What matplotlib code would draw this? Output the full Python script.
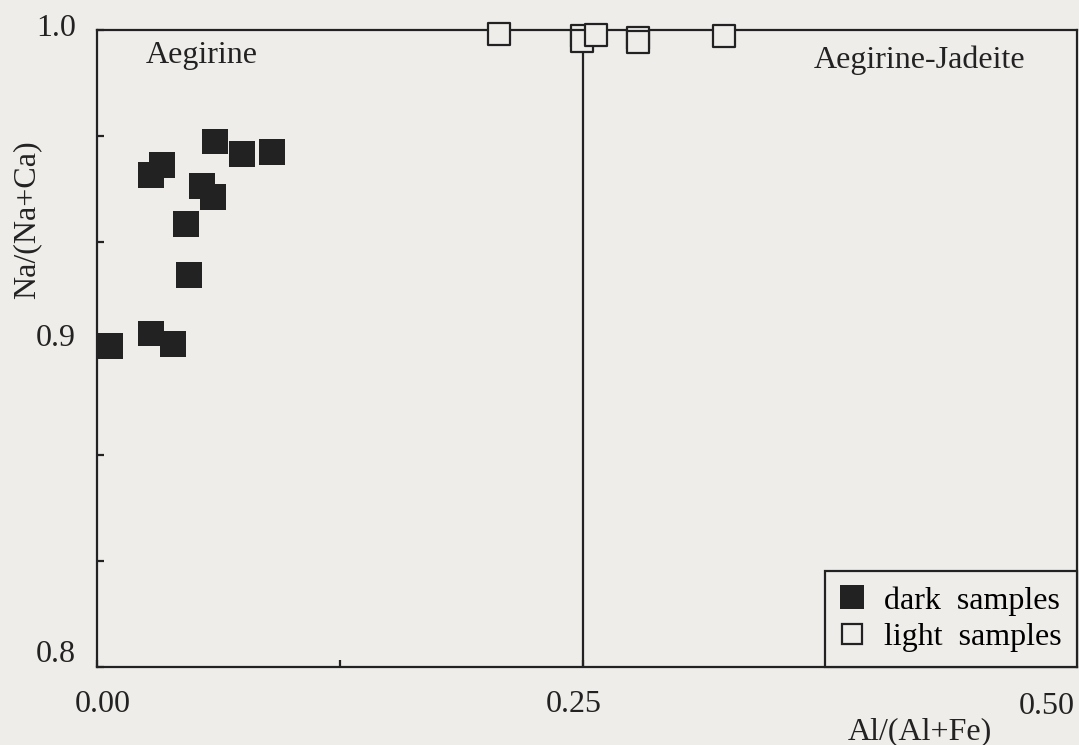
import numpy as np
import matplotlib.pyplot as plt
from matplotlib.lines import Line2D

# Data
dark_x = [0.0067, 0.0278, 0.0391, 0.0278, 0.0334, 0.0607, 0.0746, 0.0900,
          0.0540, 0.0597, 0.0458, 0.0473]
dark_y = [0.9008, 0.9046, 0.9014, 0.9545, 0.9576, 0.9651, 0.9611, 0.9617,
          0.9510, 0.9476, 0.9391, 0.9231]

light_x = [0.2068, 0.2495, 0.2495, 0.2567, 0.2783, 0.2783, 0.3225]
light_y = [0.9987, 0.9980, 0.9966, 0.9984, 0.9975, 0.9963, 0.9980]

y_major = [0.8, 0.9, 1.0]
x_major = [0.0, 0.25, 0.5]

W, H = 1079, 745
bg = '#efedea'
ink = '#222222'
fs = 23

plt.rcParams['font.family'] = ['Liberation Serif', 'DejaVu Serif']

fig = plt.figure(figsize=(W / 100, H / 100), dpi=100, facecolor=bg)
ax = fig.add_axes([97 / W, 78 / H, 980 / W, 637 / H], facecolor=bg)


def px_text(x, y, s, **kw):
    # place a label at a pixel position of the page (labels in the original
    # are pasted a bit off their ticks)
    fig.text(x / W, 1 - y / H, s, ha='center', va='center', fontsize=fs,
             color=ink, **kw)


ax.set_xlim(0, 0.5041)
ax.set_ylim(0.8, 1.0)

# field boundary
ax.axvline(0.25, color=ink, lw=1.6, zorder=2)

ax.scatter(dark_x, dark_y, marker='s', s=330, c=ink, edgecolors='none',
           zorder=3, clip_on=False)
ax.scatter(light_x, light_y, marker='s', s=270, facecolors=bg,
           edgecolors=ink, linewidths=1.6, zorder=4, clip_on=False)

for s in ax.spines.values():
    s.set_linewidth(1.6)
    s.set_color(ink)
    s.set_zorder(2.5)

ax.set_yticks(np.linspace(0.8, 1.0, 7))
ax.set_xticks(np.linspace(0.0, 0.5, 5))
ax.set_yticklabels([])
ax.set_xticklabels([])
ax.tick_params(direction='in', length=5, width=1.6, colors=ink)

# tick labels
for v, ypx in zip(y_major, [655, 338, 28]):
    px_text(56, ypx, f'{v:.1f}')
for v, xpx, ypx in zip(x_major, [103, 574, 1047], [704, 705, 707]):
    px_text(xpx, ypx, f'{v:.2f}')

px_text(920, 732, 'Al/(Al+Fe)')
px_text(27, 220, 'Na/(Na+Ca)', rotation=90)

px_text(202, 55, 'Aegirine')
px_text(920, 60, 'Aegirine-Jadeite')

handles = [
    Line2D([], [], marker='s', ls='none', color=ink, markersize=17.5,
           markeredgewidth=0, label='dark  samples'),
    Line2D([], [], marker='s', ls='none', markerfacecolor=bg,
           markeredgecolor=ink, markersize=15, markeredgewidth=1.6,
           label='light  samples'),
]
leg = ax.legend(handles=handles, loc='lower right', bbox_to_anchor=(1.0, 0.0),
                fontsize=fs, frameon=True, fancybox=False, framealpha=1,
                borderaxespad=0, handlelength=0.8, handletextpad=0.6,
                labelspacing=0.22, borderpad=0.47)
leg.get_frame().set_edgecolor(ink)
leg.get_frame().set_linewidth(1.6)
leg.get_frame().set_facecolor(bg)

fig.savefig('out.png', dpi=100, facecolor=bg)
